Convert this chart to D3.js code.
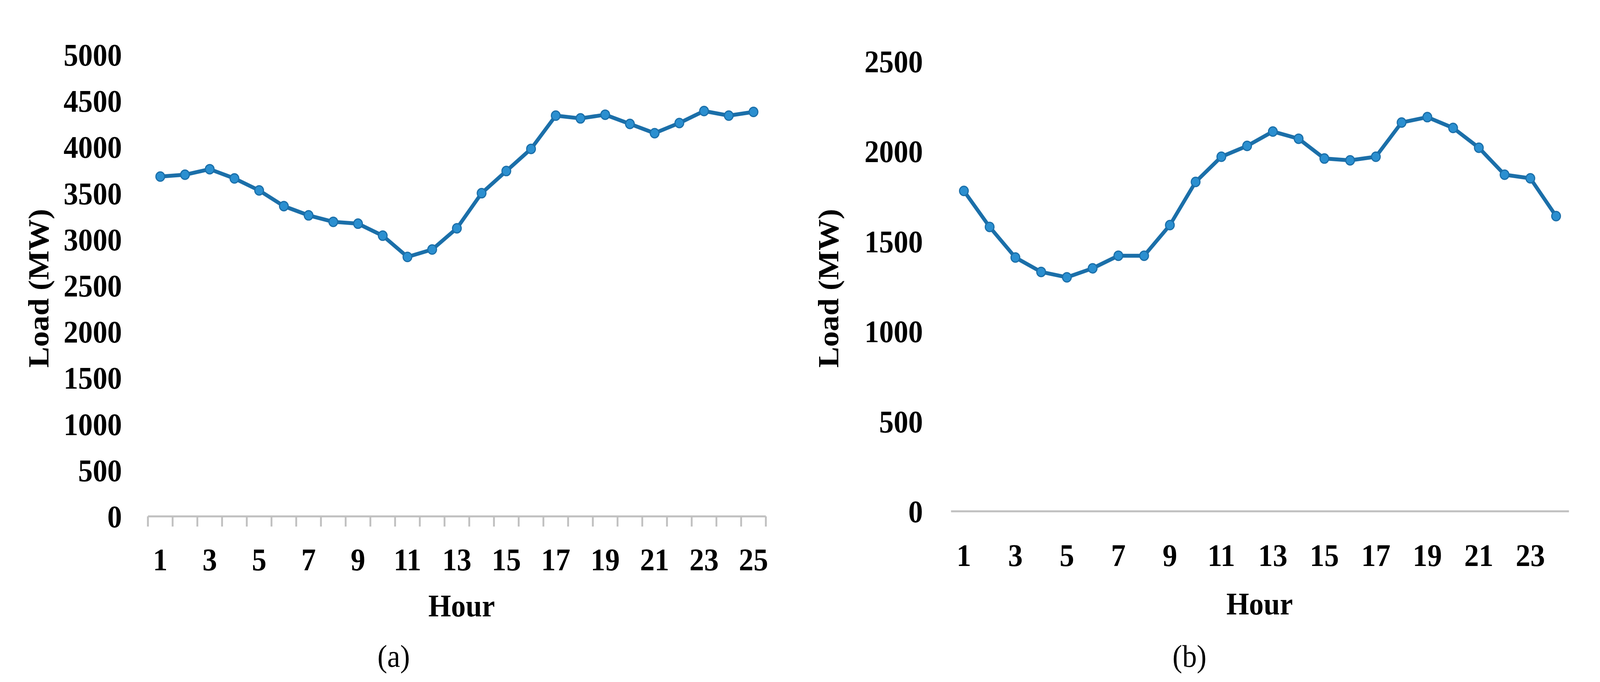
<!DOCTYPE html>
<html>
<head>
<meta charset="utf-8">
<script src="https://cdn.jsdelivr.net/npm/d3@7"></script>
<style>
  html, body { margin: 0; padding: 0; background: #fff; overflow: hidden; }
  svg { display: block; }
  text { font-family: "Liberation Serif", "Times New Roman", serif; }
</style>
</head>
<body>
<svg id="chart" viewBox="0 0 4381 1746" width="100vw" height="100vh" preserveAspectRatio="none"></svg>
<script>
// Hourly load values
const hoursA = d3.range(1, 26);
const loadA = [3680, 3700, 3760, 3660, 3530, 3360, 3260, 3190, 3170, 3040, 2810, 2890, 3120,
               3500, 3740, 3980, 4340, 4310, 4350, 4250, 4150, 4260, 4390, 4340, 4380];
const yTicksA = d3.range(0, 5001, 500);

const hoursB = d3.range(1, 25);
const loadB = [1780, 1580, 1410, 1330, 1300, 1350, 1420, 1420, 1590, 1830, 1970, 2030,
               2110, 2070, 1960, 1950, 1970, 2160, 2190, 2130, 2020, 1870, 1850, 1640];
const yTicksB = d3.range(0, 2501, 500);

const svg = d3.select("#chart");
const lineColor = "#1b6fa9";
const dotColor = "#2b8fd0";

function panel(cfg) {
  const g = svg.append("g");
  const x = d3.scaleBand().domain(cfg.hours).range([cfg.x0, cfg.x1]);
  const y = d3.scaleLinear().domain([0, cfg.max]).range([cfg.y0, cfg.yTop]);

  // y tick labels
  g.selectAll("text.ylab").data(cfg.yTicks).enter().append("text")
    .attr("x", cfg.labelRight).attr("y", d => y(d))
    .attr("dy", "0.35em").attr("text-anchor", "end")
    .attr("font-size", 80).attr("font-weight", "bold").text(d => d);

  // x axis line
  g.append("line").attr("x1", cfg.x0).attr("x2", cfg.x1)
    .attr("y1", cfg.y0).attr("y2", cfg.y0)
    .attr("stroke", "#c0c0c0").attr("stroke-width", 5);

  if (cfg.ticks) {
    const edges = cfg.hours.map(h => x(h)).concat([cfg.x1]);
    g.selectAll("line.tick").data(edges).enter().append("line")
      .attr("x1", d => d).attr("x2", d => d)
      .attr("y1", cfg.y0).attr("y2", cfg.y0 + 26)
      .attr("stroke", "#c0c0c0").attr("stroke-width", 5);
  }

  // x tick labels (odd hours)
  g.selectAll("text.xlab").data(cfg.hours.filter(h => h % 2 === 1)).enter().append("text")
    .attr("x", d => x(d) + x.bandwidth() / 2).attr("y", cfg.xLabY)
    .attr("dy", "0.35em").attr("text-anchor", "middle")
    .attr("font-size", 80).attr("font-weight", "bold").text(d => d);

  // line + markers
  const line = d3.line().x((d, i) => x(cfg.hours[i]) + x.bandwidth() / 2).y(d => y(d));
  g.append("path").datum(cfg.values).attr("d", line)
    .attr("fill", "none").attr("stroke", lineColor).attr("stroke-width", 10)
    .attr("stroke-linejoin", "round");
  g.selectAll("circle").data(cfg.values).enter().append("circle")
    .attr("cx", (d, i) => x(cfg.hours[i]) + x.bandwidth() / 2).attr("cy", d => y(d))
    .attr("r", 12).attr("fill", dotColor).attr("stroke", lineColor).attr("stroke-width", 3);

  // titles
  g.append("text").attr("x", cfg.hourX).attr("y", cfg.hourY).attr("dy", "0.35em")
    .attr("text-anchor", "middle").attr("font-size", 80).attr("font-weight", "bold").text("Hour");
  g.append("text").attr("transform", `translate(${cfg.titleX},738) rotate(-90)`)
    .attr("dy", "0.35em").attr("text-anchor", "middle")
    .attr("font-size", 80).attr("font-weight", "bold").text("Load (MW)");
  g.append("text").attr("x", cfg.capX).attr("y", 1679).attr("dy", "0.35em")
    .attr("text-anchor", "middle").attr("font-size", 80).text(cfg.cap);
}

panel({
  hours: hoursA, values: loadA, yTicks: yTicksA, max: 5000,
  x0: 405, x1: 2097, y0: 1322, yTop: 140, labelRight: 334, ticks: true,
  xLabY: 1432, hourX: 1264, hourY: 1550, titleX: 105, capX: 1078, cap: "(a)"
});
panel({
  hours: hoursB, values: loadB, yTicks: yTicksB, max: 2500,
  x0: 2604, x1: 4296, y0: 1309, yTop: 157, labelRight: 2527, ticks: false,
  xLabY: 1421, hourX: 3449, hourY: 1545, titleX: 2267, capX: 3257, cap: "(b)"
});
</script>
</body>
</html>
